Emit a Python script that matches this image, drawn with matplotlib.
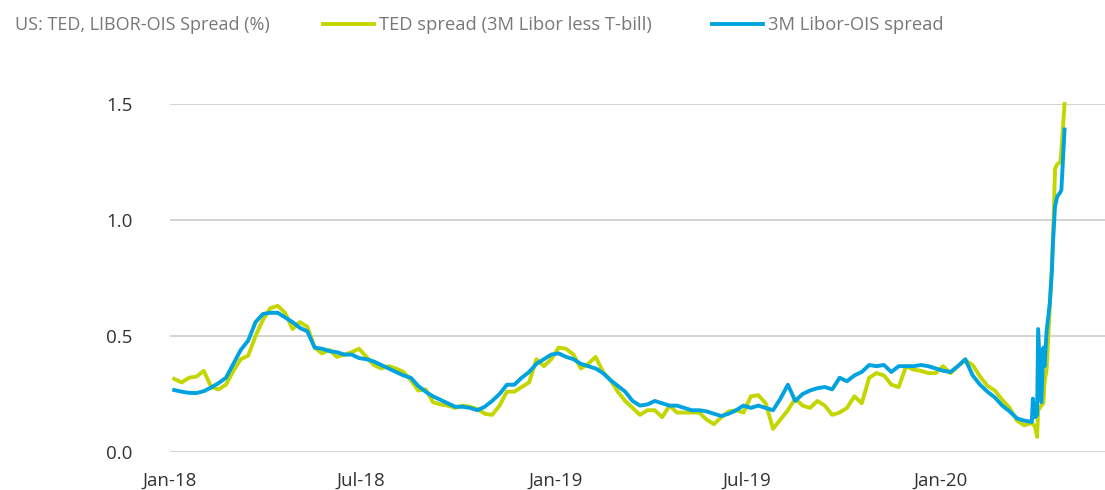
import matplotlib
matplotlib.use("Agg")
import matplotlib.pyplot as plt
import matplotlib.dates as mdates
import pandas as pd

plt.rcParams['font.family'] = ['Open Sans', 'DejaVu Sans']

# weekly readings (Fridays) from Jan 2018 to mid-March 2020
weekly_dates = pd.date_range('2018-01-05', periods=116, freq='7D')

ted_weekly = [
    0.315, 0.30, 0.32, 0.325, 0.35, 0.28, 0.27, 0.29, 0.35, 0.40,
    0.415, 0.50, 0.57, 0.62, 0.63, 0.60, 0.53, 0.56, 0.54, 0.45,
    0.425, 0.44, 0.41, 0.42, 0.43, 0.445, 0.41, 0.375, 0.36, 0.37,
    0.36, 0.345, 0.31, 0.265, 0.27, 0.215, 0.205, 0.20, 0.19, 0.20,
    0.195, 0.185, 0.165, 0.16, 0.20, 0.26, 0.26, 0.28, 0.30, 0.40,
    0.37, 0.40, 0.45, 0.445, 0.42, 0.36, 0.38, 0.41, 0.345, 0.31,
    0.26, 0.22, 0.19, 0.16, 0.18, 0.18, 0.15, 0.20, 0.17, 0.17,
    0.17, 0.17, 0.14, 0.12, 0.15, 0.175, 0.18, 0.17, 0.24, 0.245,
    0.21, 0.10, 0.14, 0.18, 0.23, 0.20, 0.19, 0.22, 0.20, 0.16,
    0.17, 0.19, 0.24, 0.21, 0.32, 0.34, 0.33, 0.29, 0.28, 0.37,
    0.355, 0.35, 0.34, 0.34, 0.37, 0.34, 0.37, 0.395, 0.375, 0.325,
    0.285, 0.265, 0.225, 0.19, 0.135, 0.115,
]

ois_weekly = [
    0.267, 0.26, 0.255, 0.254, 0.262, 0.278, 0.297, 0.32, 0.38, 0.44,
    0.48, 0.56, 0.595, 0.60, 0.60, 0.58, 0.56, 0.535, 0.52, 0.45,
    0.445, 0.435, 0.43, 0.42, 0.42, 0.405, 0.40, 0.39, 0.375, 0.36,
    0.345, 0.33, 0.32, 0.285, 0.26, 0.24, 0.225, 0.21, 0.195, 0.195,
    0.19, 0.18, 0.195, 0.22, 0.25, 0.29, 0.29, 0.32, 0.345, 0.38,
    0.40, 0.42, 0.425, 0.41, 0.40, 0.38, 0.37, 0.36, 0.34, 0.31,
    0.285, 0.26, 0.22, 0.20, 0.205, 0.22, 0.21, 0.20, 0.20, 0.19,
    0.18, 0.18, 0.175, 0.165, 0.155, 0.165, 0.18, 0.20, 0.19, 0.20,
    0.19, 0.18, 0.23, 0.29, 0.22, 0.25, 0.265, 0.275, 0.28, 0.27,
    0.32, 0.305, 0.33, 0.345, 0.375, 0.37, 0.375, 0.345, 0.37, 0.37,
    0.37, 0.375, 0.37, 0.36, 0.35, 0.345, 0.37, 0.40, 0.33, 0.29,
    0.26, 0.235, 0.20, 0.175, 0.145, 0.135,
]

# denser readings through the spike at the end
tail_dates = pd.to_datetime([
    '2020-03-27', '2020-03-28', '2020-03-30', '2020-04-01', '2020-04-02',
    '2020-04-05', '2020-04-07', '2020-04-08', '2020-04-10', '2020-04-13',
    '2020-04-15', '2020-04-16', '2020-04-18', '2020-04-20', '2020-04-23',
    '2020-04-24', '2020-04-27',
])
ted_tail = [0.125, 0.12, 0.11, 0.065, 0.18, 0.20, 0.21, 0.30, 0.355, 0.62,
            0.80, 0.91, 1.22, 1.24, 1.25, 1.30, 1.50]
ois_tail = [0.13, 0.23, 0.15, 0.16, 0.53, 0.215, 0.45, 0.37, 0.52, 0.64,
            0.78, 0.90, 1.06, 1.10, 1.12, 1.13, 1.39]

dates = list(weekly_dates) + list(tail_dates)
ted = ted_weekly + ted_tail
ois = ois_weekly + ois_tail

tick_dates = pd.to_datetime(['2018-01-01', '2018-07-01', '2019-01-01', '2019-07-01', '2020-01-01'])
tick_labels = ['Jan-18', 'Jul-18', 'Jan-19', 'Jul-19', 'Jan-20']
y_ticks = [0.0, 0.5, 1.0, 1.5]

green = '#c4d600'
blue = '#00a3e0'

fig = plt.figure(figsize=(11.05, 4.9), dpi=100)
ax = fig.add_axes([170 / 1105, 1 - 452 / 490, 935 / 1105, 348 / 490])

ax.plot(dates, ted, color=green, lw=2.8, label='TED spread (3M Libor less T-bill)',
        clip_on=False, solid_joinstyle='round', zorder=3)
ax.plot(dates, ois, color=blue, lw=2.8, label='3M Libor-OIS spread',
        clip_on=False, solid_joinstyle='round', zorder=4)

x0 = mdates.date2num(pd.Timestamp('2018-01-01'))
ax.set_xlim(x0, x0 + 885.3)
ax.set_ylim(0, 1.5)
ax.set_yticks(y_ticks)
ax.set_yticklabels(['%.1f' % v for v in y_ticks])
ax.set_xticks(tick_dates)
ax.set_xticklabels(tick_labels)
ax.grid(axis='y', color='#c8c8c8', lw=1.1, zorder=1)
ax.tick_params(axis='both', length=0, labelsize=13.5, labelcolor='#333333')
ax.tick_params(axis='y', pad=27)
ax.tick_params(axis='x', pad=14)
for s in ax.spines.values():
    s.set_visible(False)

fig.text(15 / 1105, 1 - 25 / 490, 'US: TED, LIBOR-OIS Spread (%)', fontsize=13,
         color='#75787b', va='center', ha='left')
fig.legend(loc='center left', bbox_to_anchor=(323 / 1105, 1 - 25 / 490), ncol=2,
           frameon=False, fontsize=13.2, labelcolor='#75787b', handlelength=2.8,
           handletextpad=0.27, columnspacing=3.25, borderpad=0, borderaxespad=0)

fig.savefig('out.png', dpi=100)
